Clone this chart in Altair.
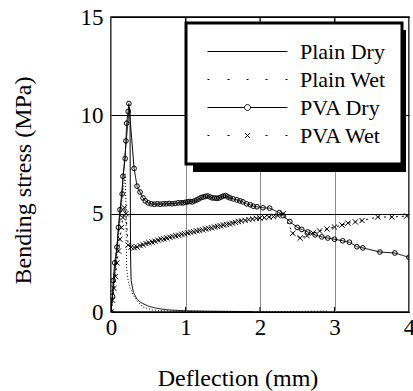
import altair as alt
import pandas as pd

FONT = "Liberation Serif"

series_names = ["Plain Dry", "Plain Wet", "PVA Dry", "PVA Wet"]

x_ticks = [0, 1, 2, 3, 4]
y_ticks = [0, 5, 10, 15]
inner_x_ticks = [1, 2, 3]

plain_dry_x = [0, 0.05, 0.10, 0.15, 0.20, 0.245, 0.255, 0.262, 0.27, 0.30, 0.35, 0.40,
               0.50, 0.60, 0.70, 0.80, 1.00, 1.30, 1.60, 1.90]
plain_dry_y = [0, 2.0, 4.2, 6.3, 8.5, 10.4, 10.3, 3.0, 1.6, 1.0, 0.65, 0.48,
               0.30, 0.20, 0.14, 0.10, 0.06, 0.04, 0.03, 0.02]

plain_wet_x = [0, 0.05, 0.10, 0.15, 0.19, 0.20, 0.205, 0.21, 0.23, 0.255, 0.30, 0.34,
               0.43, 0.56, 0.80, 1.00, 1.50, 2.00, 2.50, 2.90]
plain_wet_y = [0, 1.8, 3.8, 5.8, 7.0, 5.5, 3.5, 2.2, 1.6, 1.25, 0.85, 0.6,
               0.25, 0.1, 0.05, 0.04, 0.03, 0.02, 0.03, 0.05]

pva_dry_x = [0, 0.02, 0.03, 0.05, 0.08, 0.10, 0.12, 0.15, 0.16, 0.19, 0.20, 0.21, 0.23, 0.24,
             0.31, 0.35, 0.39, 0.43, 0.46, 0.50, 0.54, 0.58, 0.62, 0.66, 0.70, 0.74, 0.78,
             0.82, 0.86, 0.90, 0.94, 0.97, 1.00, 1.03, 1.06, 1.09, 1.12, 1.15, 1.18, 1.21,
             1.24, 1.27, 1.30, 1.33, 1.36, 1.39, 1.42, 1.45, 1.48, 1.51, 1.54, 1.57, 1.60,
             1.64, 1.69, 1.73, 1.77, 1.82, 1.87, 1.91, 1.96, 2.04, 2.13, 2.26, 2.31, 2.40,
             2.50, 2.56, 2.64, 2.74, 2.83, 2.91, 3.00, 3.11, 3.20, 3.30, 3.38, 3.61, 3.81, 4.00]
pva_dry_y = [0, 0.8, 1.6, 2.5, 3.3, 4.3, 5.2, 6.0, 6.9, 7.8, 8.7, 9.6, 10.2, 10.6,
             7.3, 6.4, 6.1, 5.8, 5.65, 5.55, 5.5, 5.48, 5.5, 5.48, 5.5, 5.5, 5.52,
             5.5, 5.52, 5.55, 5.55, 5.55, 5.58, 5.6, 5.62, 5.6, 5.65, 5.7, 5.75, 5.82,
             5.85, 5.88, 5.9, 5.85, 5.8, 5.8, 5.78, 5.8, 5.85, 5.9, 5.92, 5.85, 5.8,
             5.75, 5.7, 5.65, 5.6, 5.5, 5.45, 5.38, 5.35, 5.3, 5.28, 5.05, 4.9, 4.6,
             4.3, 4.2, 4.07, 3.92, 3.82, 3.76, 3.7, 3.62, 3.55, 3.32, 3.26, 3.05, 3.0, 2.78]

pva_wet_x = [0, 0.02, 0.04, 0.06, 0.08, 0.10, 0.12, 0.14, 0.16, 0.18, 0.20, 0.23, 0.27, 0.31,
             0.35, 0.39, 0.43, 0.47, 0.51, 0.55, 0.59, 0.63, 0.67, 0.71, 0.75, 0.79, 0.83,
             0.87, 0.91, 0.95, 0.99, 1.03, 1.07, 1.11, 1.15, 1.19, 1.23, 1.27, 1.31, 1.35,
             1.39, 1.43, 1.47, 1.51, 1.55, 1.59, 1.63, 1.67, 1.71, 1.75, 1.80, 1.85, 1.90,
             1.95, 2.00, 2.06, 2.12, 2.18, 2.24, 2.31, 2.44, 2.54, 2.63, 2.71, 2.80, 2.90,
             3.00, 3.10, 3.18, 3.28, 3.37, 3.58, 3.77, 3.97]
pva_wet_y = [0, 0.6, 1.2, 1.8, 2.5, 3.1, 3.7, 4.3, 4.8, 5.3, 5.0, 3.4, 3.3, 3.28,
             3.3, 3.38, 3.42, 3.48, 3.52, 3.56, 3.6, 3.65, 3.7, 3.72, 3.76, 3.8, 3.84,
             3.88, 3.9, 3.95, 3.98, 4.02, 4.05, 4.08, 4.12, 4.15, 4.18, 4.22, 4.25, 4.28,
             4.32, 4.35, 4.38, 4.42, 4.45, 4.48, 4.52, 4.56, 4.6, 4.63, 4.66, 4.7, 4.73,
             4.76, 4.78, 4.8, 4.82, 4.85, 4.9, 5.0, 4.0, 3.76, 3.88, 4.02, 4.12, 4.22,
             4.32, 4.42, 4.52, 4.58, 4.65, 4.83, 4.83, 4.88]

series_data = [
    ("Plain Dry", plain_dry_x, plain_dry_y),
    ("Plain Wet", plain_wet_x, plain_wet_y),
    ("PVA Dry", pva_dry_x, pva_dry_y),
    ("PVA Wet", pva_wet_x, pva_wet_y),
]
rows = []
for name, xs, ys in series_data:
    for i, (a, b) in enumerate(zip(xs, ys)):
        rows.append({"series": name, "x": a, "y": b, "order": i})
df = pd.DataFrame(rows)
legend_df = pd.DataFrame({"series": series_names})

# legend symbols: line styles with marker in the middle
legend_paths = [
    "M-1,0H1",
    "M-1,0H-0.95M-0.5,0H-0.45M-0.025,0H0.025M0.45,0H0.5M0.95,0H1",
    "M-1,0H-0.075M0.075,0H1M0.075,0A0.075,0.075 0 1,1 -0.075,0A0.075,0.075 0 1,1 0.075,0",
    "M-1,0H-0.95M-0.5,0H-0.45M-0.06,-0.06L0.06,0.06M-0.06,0.06L0.06,-0.06M0.45,0H0.5M0.95,0H1",
]
line_dashes = [[1, 0], [1, 2], [1, 0], [2, 4]]

xscale = alt.Scale(domain=[0, 4], nice=False, zero=False)
yscale = alt.Scale(domain=[0, 15], nice=False, zero=False)

x_axis = alt.Axis(values=x_ticks, format="d", title="Deflection (mm)", grid=True,
                  gridColor="#8a8a8a", labelPadding=4, labelFlush=False, labelOverlap=False,
                  titleX=126.5, titleY=73, titleAlign="center", titleBaseline="alphabetic")
y_axis = alt.Axis(values=y_ticks, format="d", title="Bending stress (MPa)", grid=True,
                  gridColor="black", labelPadding=8, labelFlush=False, labelOverlap=False,
                  titleX=-81, titleY=163, titleAngle=270, titleAlign="center",
                  titleBaseline="alphabetic")

base = alt.Chart(df)

line_layers = []
for k, name in enumerate(series_names):
    if k == 0:
        enc_x = alt.X("x:Q", scale=xscale, axis=x_axis)
        enc_y = alt.Y("y:Q", scale=yscale, axis=y_axis)
    else:
        enc_x = alt.X("x:Q", scale=xscale)
        enc_y = alt.Y("y:Q", scale=yscale)
    line_layers.append(
        base.transform_filter(alt.datum.series == name).mark_line(
            color="black", strokeWidth=1, strokeDash=line_dashes[k], clip=True
        ).encode(x=enc_x, y=enc_y, order="order:Q")
    )

circles = base.transform_filter(alt.datum.series == "PVA Dry").mark_point(
    shape="circle", size=22, color="black", strokeWidth=1, filled=False, opacity=1, clip=True
).encode(x=alt.X("x:Q", scale=xscale), y=alt.Y("y:Q", scale=yscale))

crosses = base.transform_filter(alt.datum.series == "PVA Wet").mark_point(
    shape="M-1,-1L1,1M-1,1L1,-1", size=28, color="black", strokeWidth=1, filled=False,
    opacity=1, clip=True
).encode(x=alt.X("x:Q", scale=xscale), y=alt.Y("y:Q", scale=yscale))

legend_layer = alt.Chart(legend_df).mark_point(
    color="black", strokeWidth=1, filled=False, opacity=1, clip=True
).encode(
    x=alt.value(-1000),
    y=alt.value(-1000),
    shape=alt.Shape("series:N", scale=alt.Scale(domain=series_names, range=legend_paths),
                    legend=alt.Legend(title=None, orient="none", legendX=75, legendY=6)),
)

tick_df = pd.DataFrame({"t": inner_x_ticks})
ticks_bottom = alt.Chart(tick_df).mark_rule(color="black", strokeWidth=1).encode(
    x=alt.X("t:Q", scale=xscale), y=alt.value(290), y2=alt.value(295))
ticks_top = alt.Chart(tick_df).mark_rule(color="black", strokeWidth=1).encode(
    x=alt.X("t:Q", scale=xscale), y=alt.value(0), y2=alt.value(5))

shadow = alt.Chart(pd.DataFrame({"k": [0]})).mark_rect(color="black", opacity=1).encode(
    x=alt.value(82), x2=alt.value(295), y=alt.value(13), y2=alt.value(155))

chart = alt.layer(*line_layers, ticks_bottom, ticks_top, circles, crosses, shadow,
                  legend_layer).properties(
    width=298, height=295,
    padding={"left": 111, "top": 17, "right": 4, "bottom": 79},
    autosize=alt.AutoSizeParams(type="none"),
).configure_view(
    stroke="black", strokeWidth=1.5
).configure_axis(
    labelFont=FONT, labelFontSize=23, labelColor="black",
    titleFont=FONT, titleFontSize=24, titleColor="black", titleFontWeight="normal",
    domain=False, ticks=False, gridOpacity=1, gridWidth=1,
).configure_legend(
    labelFont=FONT, labelFontSize=22, labelColor="black", labelLimit=200,
    symbolSize=6400, symbolStrokeWidth=1, symbolStrokeColor="black", symbolOpacity=1,
    symbolOffset=5, labelOffset=12, padding=16, rowPadding=3, clipHeight=25,
    fillColor="white", strokeColor="black", strokeWidth=3,
)

chart.save("out.html", embed_options={"renderer": "svg", "actions": False})
